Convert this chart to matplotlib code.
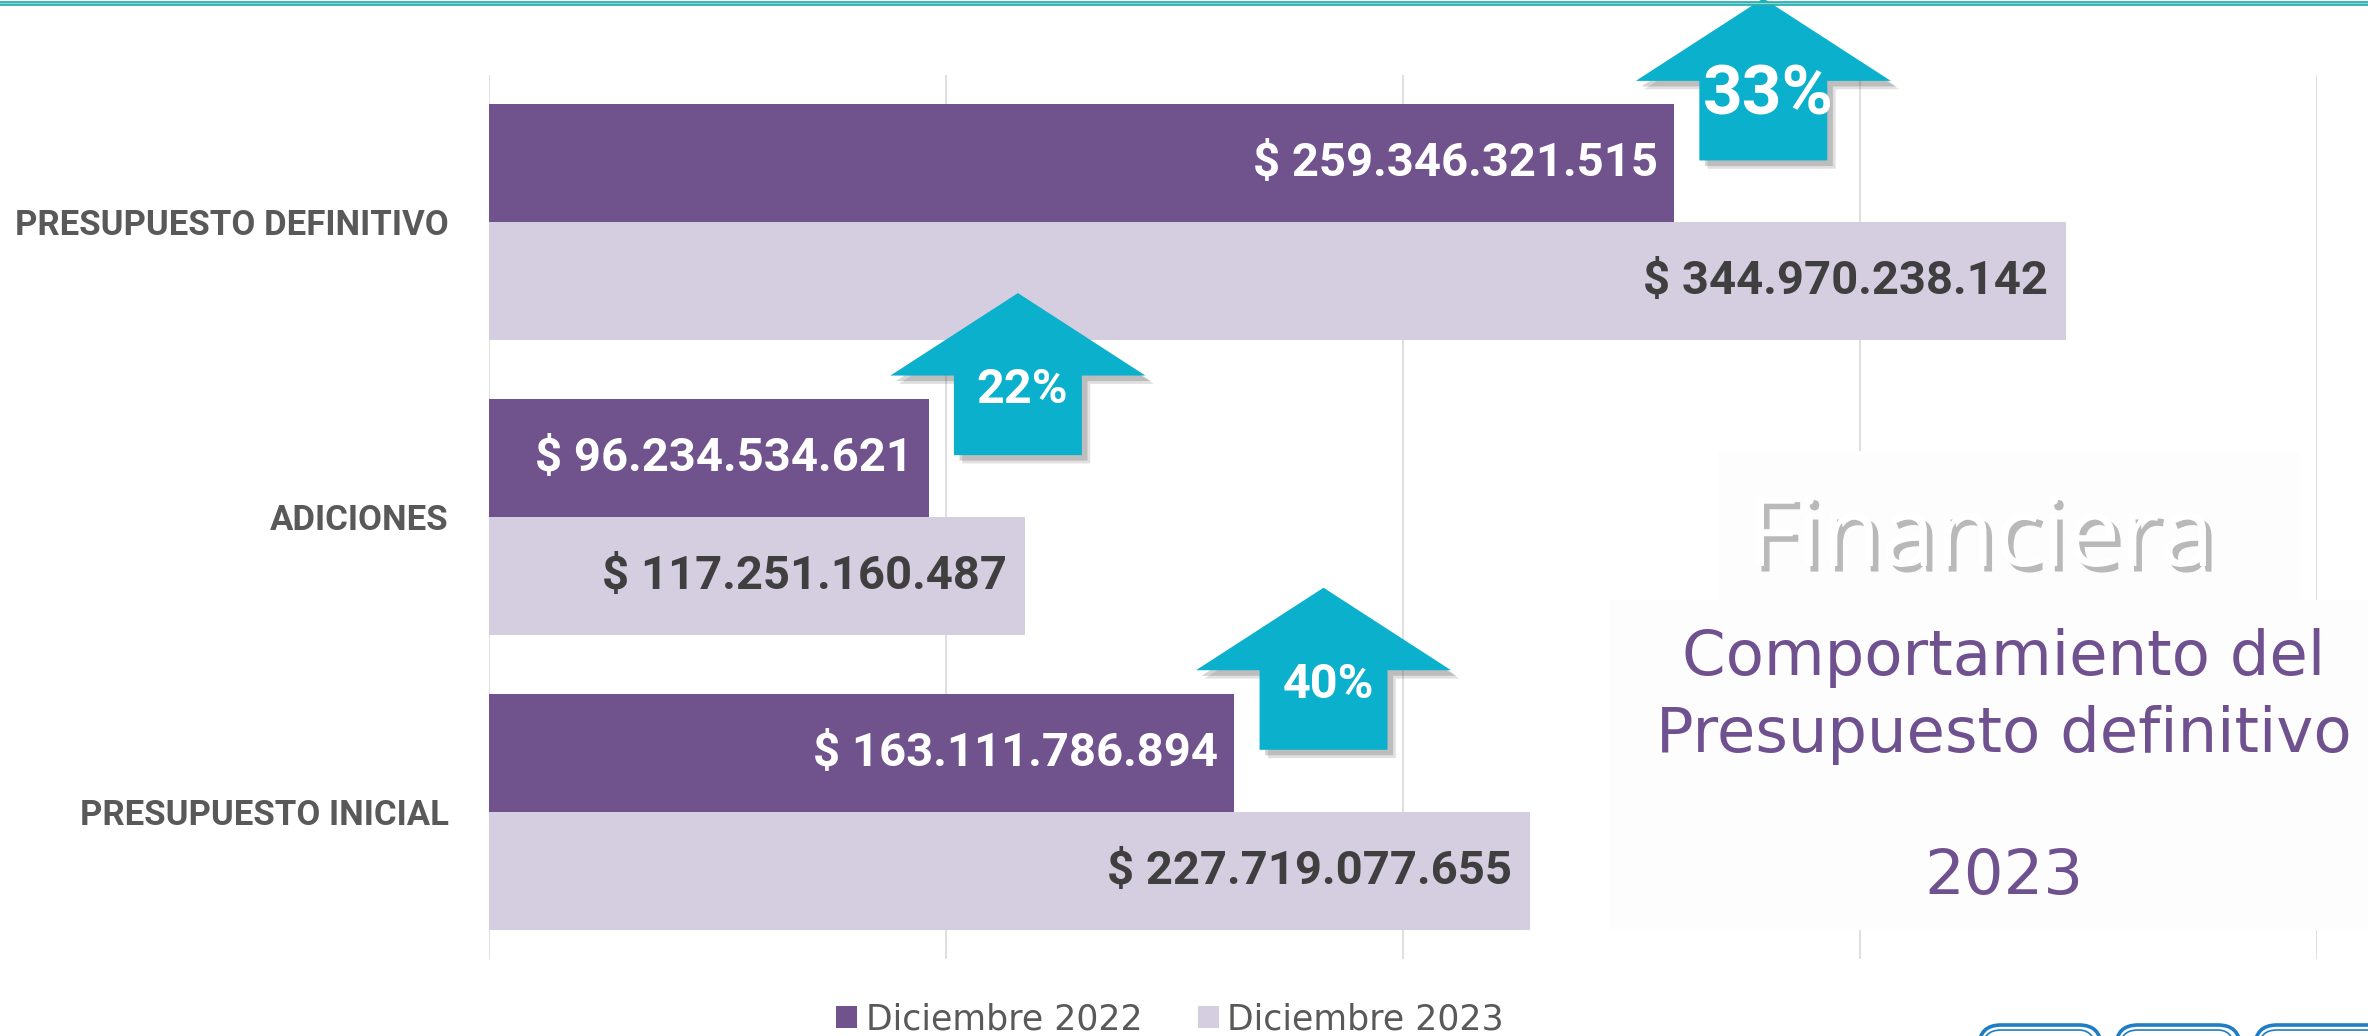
import numpy as np
import matplotlib
matplotlib.use("Agg")
import matplotlib.pyplot as plt
from matplotlib import font_manager as fm
from matplotlib import patheffects as pe
from matplotlib.patches import Polygon, Patch, Rectangle, FancyBboxPatch
from matplotlib.lines import Line2D
from matplotlib.transforms import IdentityTransform

# ---------------- data ----------------
categories = ["PRESUPUESTO DEFINITIVO", "ADICIONES", "PRESUPUESTO INICIAL"]
values_2022 = [259346321515, 96234534621, 163111786894]
values_2023 = [344970238142, 117251160487, 227719077655]
series_names = ["Diciembre 2022", "Diciembre 2023"]
title_main = "Financiera"
subtitle_lines = ["Comportamiento del", "Presupuesto definitivo", "2023"]

# ---------------- style ----------------
C_2022 = "#70528C"
C_2023 = "#D5CDE0"
C_ARROW = "#0BB0CC"
C_TEXT = "#595959"
C_PURPLE_TXT = "#6F5190"
W, H = 2368, 1036


def font_available(name):
    try:
        fm.findfont(fm.FontProperties(family=name), fallback_to_default=False)
        return True
    except Exception:
        return False


if font_available("Roboto"):
    NARROW = "Roboto"
    fs_cat, fs_val, fs_pct = 25, 34, [50, 35, 35]
else:
    NARROW = "DejaVu Sans"
    fs_cat, fs_val, fs_pct = 21, 27, [36, 26, 26]

SANS = "Open Sans" if font_available("Open Sans") else "DejaVu Sans"

fig = plt.figure(figsize=(W / 100, H / 100), dpi=100)
fig.patch.set_facecolor("white")

ax = fig.add_axes([489 / W, 1 - 959 / H, (2317 - 489) / W, (959 - 75) / H])
ax.set_facecolor("none")

y = np.arange(len(categories))[::-1]  # top category first
bh = 0.4
ax.barh(y + bh / 2, values_2022, height=bh, color=C_2022, zorder=2)
ax.barh(y - bh / 2, values_2023, height=bh, color=C_2023, zorder=2)

ax.set_xlim(0, 400e9)
ax.set_ylim(-0.5, 2.5)
ax.set_xticks(np.arange(0, 400e9 + 1, 100e9))
ax.tick_params(axis="x", length=0, labelbottom=False)
ax.grid(axis="x", color="#D9D9D9", lw=1.2, zorder=0)
ax.set_axisbelow(True)
for s in ax.spines.values():
    s.set_visible(False)
ax.set_yticks(y)
ax.set_yticklabels(categories, fontfamily=NARROW, fontweight="bold",
                   fontsize=fs_cat, color=C_TEXT)
ax.tick_params(axis="y", length=0, pad=29)


def fmt(v):
    return "$ " + f"{v:,}".replace(",", ".")


for yi, v in zip(y, values_2022):
    ax.annotate(fmt(v), xy=(v, yi + bh / 2), xytext=(-11.5, 0),
                textcoords="offset points", ha="right", va="center",
                fontfamily=NARROW, fontweight="bold", fontsize=fs_val,
                color="white", zorder=4)
for yi, v in zip(y, values_2023):
    ax.annotate(fmt(v), xy=(v, yi - bh / 2), xytext=(-12.5, 0),
                textcoords="offset points", ha="right", va="center",
                fontfamily=NARROW, fontweight="bold", fontsize=fs_val,
                color="#3F3F3F", zorder=4)

# growth arrows
x_off = 19.5e9
head_hw = 27.9e9
shaft_hw = 14.0e9
arrow_h = 0.55
head_h = 0.28
for i, (yi, a, b) in enumerate(zip(y, values_2022, values_2023)):
    cx = a + x_off
    yb = yi + 0.21
    ys = yb + arrow_h - head_h
    verts = [(cx - shaft_hw, yb), (cx + shaft_hw, yb), (cx + shaft_hw, ys),
             (cx + head_hw, ys), (cx, yb + arrow_h), (cx - head_hw, ys),
             (cx - shaft_hw, ys)]
    poly = Polygon(verts, closed=True, facecolor=C_ARROW, edgecolor="none",
                   clip_on=False, zorder=5)
    poly.set_path_effects([
        pe.SimplePatchShadow(offset=(6, -6), shadow_rgbFace="#555555", alpha=0.18),
        pe.SimplePatchShadow(offset=(4, -4), shadow_rgbFace="#555555", alpha=0.25),
        pe.Normal()])
    ax.add_patch(poly)
    pct = round((b / a - 1) * 100)
    ax.text(cx + 1.0e9, ys - 0.05, f"{pct}%", ha="center", va="center",
            fontfamily=NARROW, fontweight="bold", fontsize=fs_pct[i],
            color="white", zorder=6, clip_on=False)

# white panels hiding gridlines on the right
fig.add_artist(Rectangle((1718 / W, 1 - 600 / H), (2300 - 1718) / W, (600 - 451) / H,
                         transform=fig.transFigure, facecolor="#FDFDFD",
                         edgecolor="none", zorder=1))
fig.add_artist(Rectangle((1610 / W, 1 - 930 / H), (W - 1610) / W, (930 - 600) / H,
                         transform=fig.transFigure, facecolor="#FDFDFD",
                         edgecolor="none", zorder=1))

fig.text(1980 / W, 1 - 566 / H, title_main, ha="center", va="baseline",
         fontfamily=SANS, fontsize=70, color="white", zorder=3,
         path_effects=[pe.SimplePatchShadow(offset=(4, -4), shadow_rgbFace="#666666",
                                            alpha=0.45), pe.Normal()])
for txt, base in zip(subtitle_lines, [675, 752, 894]):
    fig.text(2004 / W, 1 - base / H, txt, ha="center", va="baseline",
             fontfamily="DejaVu Sans", fontsize=45, color=C_PURPLE_TXT, zorder=3)

# top teal rule
fig.add_artist(Line2D([0, 1], [1 - 3 / H, 1 - 3 / H], transform=fig.transFigure,
                      color="#2AAFB0", lw=3.4, zorder=3))
fig.add_artist(Line2D([0, 1], [1 - 3 / H, 1 - 3 / H], transform=fig.transFigure,
                      color="#8FD6D4", lw=0.8, zorder=3))

# decorative buttons at bottom right
for x0, x1 in [(1979, 2101), (2116, 2240), (2255, 2390)]:
    fig.add_artist(FancyBboxPatch((x0, -40), x1 - x0, 51,
                                  boxstyle="round,pad=0,rounding_size=22",
                                  transform=IdentityTransform(), facecolor="white",
                                  edgecolor="#1E7DC4", lw=2.6, zorder=3))
    fig.add_artist(FancyBboxPatch((x0 + 4, -40), x1 - x0 - 8, 46,
                                  boxstyle="round,pad=0,rounding_size=18",
                                  transform=IdentityTransform(), facecolor="none",
                                  edgecolor="#1E7DC4", lw=1.2, zorder=3))

# legend
handles = [Patch(facecolor=C_2022, label=series_names[0]),
           Patch(facecolor=C_2023, label=series_names[1])]
fig.legend(handles=handles, loc="center", bbox_to_anchor=(1170 / W, 17 / H), ncol=2,
           frameon=False, prop={"family": "DejaVu Sans", "size": 25},
           labelcolor=C_TEXT, handlelength=0.6, handleheight=0.6,
           handletextpad=0.25, columnspacing=1.6)

fig.savefig("out.png", dpi=100, facecolor="white")
